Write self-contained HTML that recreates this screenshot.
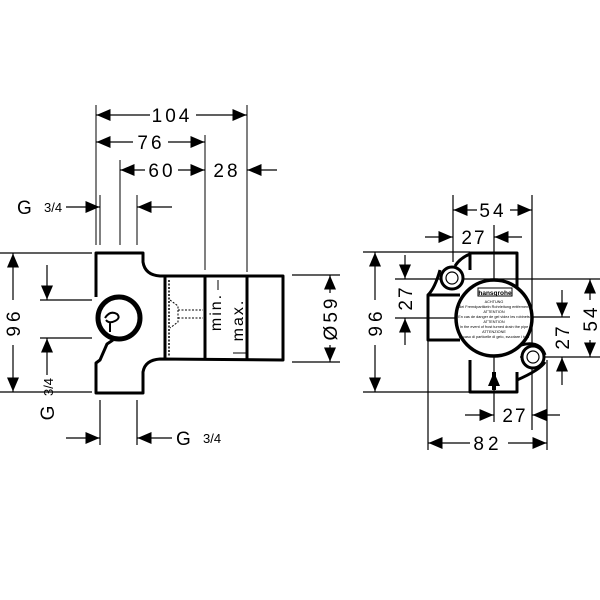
<!DOCTYPE html>
<html><head><style>body{margin:0;background:#fff}svg{display:block}text{font-family:"Liberation Sans",sans-serif;fill:#000}</style></head><body>
<svg width="600" height="600" viewBox="0 0 600 600" xmlns="http://www.w3.org/2000/svg">
<defs>
<marker id="a" viewBox="0 0 10 10" refX="10" refY="5" markerWidth="14" markerHeight="12" markerUnits="userSpaceOnUse" orient="auto" preserveAspectRatio="none"><path d="M0,0 L10,5 L0,10 z" fill="#000"/></marker>
</defs>
<g stroke="#000" stroke-width="1" fill="none">
<line x1="96" y1="105" x2="96" y2="245"/>
<line x1="100" y1="195" x2="100" y2="245"/>
<line x1="120" y1="160" x2="120" y2="245"/>
<line x1="137" y1="195" x2="137" y2="245"/>
<line x1="205" y1="135" x2="205" y2="270"/>
<line x1="247" y1="105" x2="247" y2="272"/>
</g>
<g stroke="#000" stroke-width="1.2" fill="none">
<line x1="150" y1="115" x2="96.5" y2="115" marker-end="url(#a)"/>
<line x1="196" y1="115" x2="246.5" y2="115" marker-end="url(#a)"/>
<line x1="133" y1="142" x2="96.5" y2="142" marker-end="url(#a)"/>
<line x1="168" y1="142" x2="204.5" y2="142" marker-end="url(#a)"/>
<line x1="145" y1="170" x2="120.5" y2="170" marker-end="url(#a)"/>
<line x1="178" y1="170" x2="204.5" y2="170" marker-end="url(#a)"/>
<line x1="277" y1="170" x2="247.5" y2="170" marker-end="url(#a)"/>
<line x1="66" y1="207" x2="99.5" y2="207" marker-end="url(#a)"/>
<line x1="172" y1="207" x2="137.5" y2="207" marker-end="url(#a)"/>
<line x1="0" y1="253" x2="92" y2="253"/>
<line x1="0" y1="392" x2="92" y2="392"/>
<line x1="13" y1="300" x2="13" y2="253.5" marker-end="url(#a)"/>
<line x1="13" y1="345" x2="13" y2="391.5" marker-end="url(#a)"/>
<line x1="40" y1="300" x2="92" y2="300"/>
<line x1="40" y1="338" x2="92" y2="338"/>
<line x1="47" y1="265" x2="47" y2="299.5" marker-end="url(#a)"/>
<line x1="47" y1="375" x2="47" y2="338.5" marker-end="url(#a)"/>
<line x1="100" y1="400" x2="100" y2="445"/>
<line x1="137" y1="400" x2="137" y2="445"/>
<line x1="66" y1="438" x2="99.5" y2="438" marker-end="url(#a)"/>
<line x1="172" y1="438" x2="137.5" y2="438" marker-end="url(#a)"/>
<line x1="292" y1="275" x2="340" y2="275"/>
<line x1="292" y1="362" x2="340" y2="362"/>
<line x1="330" y1="293" x2="330" y2="275.5" marker-end="url(#a)"/>
<line x1="330" y1="345" x2="330" y2="361.5" marker-end="url(#a)"/>
</g>
<g stroke="#000" stroke-width="3" fill="none" stroke-linejoin="round">
<path d="M96,297 L96,253 L143,253 L143,262 Q145,275 160,276 L283,276 L283,360 L160,359 Q145,360 143,372 L143,393 L96,393 L96,363 L100,360 L107,344 L113,340"/>
<line x1="205" y1="277" x2="205" y2="359"/>
<line x1="247" y1="277" x2="247" y2="359"/>
<line x1="165" y1="277" x2="165" y2="359"/>
</g>
<circle cx="119" cy="318" r="21" stroke="#000" stroke-width="5" fill="#fff"/>
<path d="M105,318 q5,-8 12,-4 q4,4 -2,7 q-6,3 -9,-1 M110,322 l0,10" stroke="#000" stroke-width="2" fill="none"/>
<line x1="169" y1="280" x2="169" y2="356" stroke="#000" stroke-width="1.5" stroke-dasharray="2,1.5"/>
<path d="M170,300 l8,6 l0,16 l-8,6 M178,310 h25 M178,318 h25" stroke="#000" stroke-width="1" stroke-dasharray="2,1.5" fill="none"/>
<line x1="218" y1="290" x2="218" y2="280" stroke="#000" stroke-width="1"/>
<line x1="233" y1="353" x2="246" y2="353" stroke="#000" stroke-width="1"/>
<g font-size="19">
<text x="172" y="122" text-anchor="middle" letter-spacing="3">104</text>
<text x="151" y="149" text-anchor="middle" letter-spacing="3">76</text>
<text x="162" y="177" text-anchor="middle" letter-spacing="3">60</text>
<text x="227" y="177" text-anchor="middle" letter-spacing="3">28</text>
<text x="17" y="214">G</text>
<text x="44" y="212" font-size="13">3/4</text>
<text x="176" y="445">G</text>
<text x="203" y="443" font-size="13">3/4</text>
<text transform="translate(20,322) rotate(-90)" text-anchor="middle" letter-spacing="4">96</text>
<text transform="translate(53,387) rotate(-90)" text-anchor="middle" font-size="13">3/4</text>
<text transform="translate(54,413) rotate(-90)" text-anchor="middle">G</text>
<text transform="translate(337,318) rotate(-90)" text-anchor="middle" letter-spacing="3">Ø59</text>
<text transform="translate(221,312) rotate(-90)" text-anchor="middle" font-size="16" letter-spacing="2">min.</text>
<text transform="translate(243,320) rotate(-90)" text-anchor="middle" font-size="16" letter-spacing="2">max.</text>
</g>

<g stroke="#000" stroke-width="1.2" fill="none">
<line x1="453" y1="195" x2="453" y2="262"/>
<line x1="532" y1="195" x2="532" y2="430"/>
<line x1="494" y1="225" x2="494" y2="422"/>
<line x1="428" y1="300" x2="428" y2="450"/>
<line x1="547" y1="360" x2="547" y2="450"/>
<line x1="363" y1="252" x2="470" y2="252"/>
<line x1="395" y1="279" x2="600" y2="279"/>
<line x1="395" y1="318" x2="460" y2="318"/>
<line x1="530" y1="317" x2="570" y2="317"/>
<line x1="520" y1="357" x2="600" y2="357"/>
<line x1="363" y1="392" x2="470" y2="392"/>
<line x1="477" y1="210" x2="453.5" y2="210" marker-end="url(#a)"/>
<line x1="510" y1="210" x2="531.5" y2="210" marker-end="url(#a)"/>
<line x1="425" y1="237" x2="452.5" y2="237" marker-end="url(#a)"/>
<line x1="522" y1="237" x2="494.5" y2="237" marker-end="url(#a)"/>
<line x1="375" y1="300" x2="375" y2="252.5" marker-end="url(#a)"/>
<line x1="375" y1="345" x2="375" y2="391.5" marker-end="url(#a)"/>
<line x1="405" y1="255" x2="405" y2="278.5" marker-end="url(#a)"/>
<line x1="405" y1="345" x2="405" y2="318.5" marker-end="url(#a)"/>
<line x1="562" y1="290" x2="562" y2="316.5" marker-end="url(#a)"/>
<line x1="562" y1="385" x2="562" y2="357.5" marker-end="url(#a)"/>
<line x1="590" y1="300" x2="590" y2="279.5" marker-end="url(#a)"/>
<line x1="590" y1="340" x2="590" y2="356.5" marker-end="url(#a)"/>
<line x1="465" y1="415" x2="493.5" y2="415" marker-end="url(#a)"/>
<line x1="560" y1="415" x2="532.5" y2="415" marker-end="url(#a)"/>
<line x1="470" y1="443" x2="428.5" y2="443" marker-end="url(#a)"/>
<line x1="508" y1="443" x2="546.5" y2="443" marker-end="url(#a)"/>
</g>
<g stroke="#000" stroke-width="3" fill="none" stroke-linejoin="round">
<path d="M470,270 L470,253 L517,253 L517,300"/>
<path d="M470,360 L470,392 L517,392 L517,372"/>
<path d="M460,295 L428,295 L428,340 L460,340"/>
<path d="M440,270 Q435,288 428,295"/>
<path d="M470,254 Q460,258 455,266"/>
<path d="M545,362 Q540,370 517,380"/>
<path d="M521,345 Q540,340 545,355"/>
</g>
<circle cx="452" cy="278" r="11" stroke="#000" stroke-width="3" fill="#fff"/>
<circle cx="452" cy="278" r="6" stroke="#000" stroke-width="1.2" fill="none"/>
<circle cx="533" cy="357" r="11" stroke="#000" stroke-width="3" fill="#fff"/>
<circle cx="533" cy="357" r="6" stroke="#000" stroke-width="1.2" fill="none"/>
<circle cx="494" cy="318" r="38" stroke="#000" stroke-width="3.5" fill="#fff"/>
<rect x="478" y="288" width="34" height="8" stroke="#000" stroke-width="1" fill="#fff"/>
<text x="495" y="295" font-size="6.5" text-anchor="middle" font-weight="bold">hansgrohe</text>
<g font-size="3.8" text-anchor="middle">
<text x="494" y="303">ACHTUNG</text>
<text x="494" y="308">Bei Fremdpartikeln Rohrleitung entfernen!</text>
<text x="494" y="313">ATTENTION</text>
<text x="494" y="318">En cas de danger de gel videz les robinets</text>
<text x="494" y="323">ATTENTION</text>
<text x="494" y="328">In the event of frost turned drain the pipe</text>
<text x="494" y="333">ATTENZIONE</text>
<text x="494" y="338">In caso di particelle di gelo, svuotare i tubi</text>
</g>
<line x1="494" y1="390" x2="494" y2="372" stroke="#000" stroke-width="4" marker-end="url(#a)"/>
<g font-size="19">
<text x="493" y="217" text-anchor="middle" letter-spacing="3">54</text>
<text x="474" y="244" text-anchor="middle" letter-spacing="2">27</text>
<text x="515" y="422" text-anchor="middle" letter-spacing="2">27</text>
<text x="488" y="450" text-anchor="middle" letter-spacing="4">82</text>
<text transform="translate(382,322) rotate(-90)" text-anchor="middle" letter-spacing="4">96</text>
<text transform="translate(412,298) rotate(-90)" text-anchor="middle" letter-spacing="2">27</text>
<text transform="translate(569,337) rotate(-90)" text-anchor="middle" letter-spacing="2">27</text>
<text transform="translate(597,318) rotate(-90)" text-anchor="middle" letter-spacing="3">54</text>
</g>
</svg>
</body></html>
